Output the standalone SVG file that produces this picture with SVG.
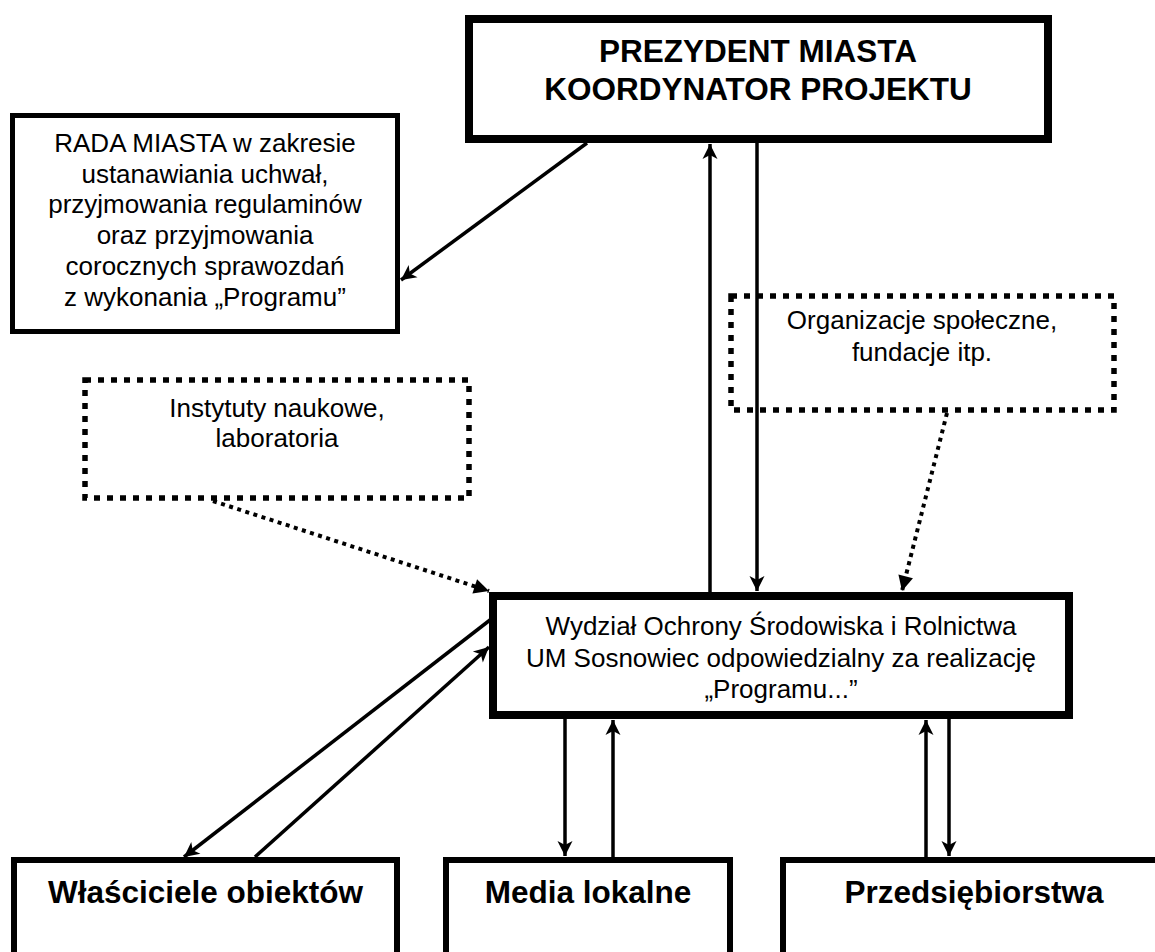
<svg xmlns="http://www.w3.org/2000/svg" width="1155" height="952" viewBox="0 0 1155 952">
<style>
.box{fill:#fff;stroke:#000}
.dot{fill:#fff;stroke:#000;stroke-width:5.5;stroke-dasharray:6 7}
.t{font-family:"Liberation Sans",Arial,sans-serif;font-size:26px;fill:#000;text-anchor:middle}
.b{font-family:"Liberation Sans",Arial,sans-serif;font-size:31.5px;font-weight:bold;fill:#000;text-anchor:middle}
.ln{fill:none;stroke:#000;stroke-width:3.5}
.dl{fill:none;stroke:#000;stroke-width:4;stroke-dasharray:4 4.5}
</style>
<defs>
<marker id="ah" markerUnits="userSpaceOnUse" markerWidth="20" markerHeight="20" refX="0" refY="0" viewBox="-16 -10 20 20" orient="auto">
<path d="M0,0 L-15,-7.5 L-11,0 L-15,7.5 Z" fill="#000"/>
</marker>
<marker id="ahd" markerUnits="userSpaceOnUse" markerWidth="20" markerHeight="20" refX="0" refY="0" viewBox="-16 -10 20 20" orient="auto">
<path d="M0,0 L-15,-7.5 L-15,7.5 Z" fill="#000"/>
</marker>
</defs>
<rect width="1155" height="952" fill="#fff"/>
<g id="connectors">
<line class="ln" x1="587" y1="143" x2="401" y2="280" marker-end="url(#ah)"/>
<line class="ln" x1="710" y1="592" x2="710" y2="144" marker-end="url(#ah)"/>
<line class="ln" x1="757" y1="143" x2="757" y2="591" marker-end="url(#ah)"/>
<line class="dl" x1="947" y1="413" x2="902" y2="591" marker-end="url(#ahd)"/>
<line class="dl" x1="213" y1="501" x2="489" y2="591" marker-end="url(#ahd)"/>
<line class="ln" x1="490" y1="620" x2="184" y2="857" marker-end="url(#ah)"/>
<line class="ln" x1="255" y1="857" x2="489" y2="647" marker-end="url(#ah)"/>
<line class="ln" x1="565" y1="719" x2="565" y2="856" marker-end="url(#ah)"/>
<line class="ln" x1="613" y1="857" x2="613" y2="720" marker-end="url(#ah)"/>
<line class="ln" x1="926" y1="857" x2="926" y2="720" marker-end="url(#ah)"/>
<line class="ln" x1="949" y1="719" x2="949" y2="856" marker-end="url(#ah)"/>
</g>
<g id="prezydent">
<rect class="box" x="469" y="19" width="579" height="120" stroke-width="8"/>
<text class="b" x="758" y="62" font-size="32">PREZYDENT MIASTA</text>
<text class="b" x="758" y="100" font-size="32">KOORDYNATOR PROJEKTU</text>
</g>
<g id="rada">
<rect class="box" x="12.5" y="115.5" width="385" height="216" stroke-width="5"/>
<text class="t" x="205" y="152">RADA MIASTA w zakresie</text>
<text class="t" x="205" y="183">ustanawiania uchwał,</text>
<text class="t" x="205" y="213">przyjmowania regulaminów</text>
<text class="t" x="205" y="244">oraz przyjmowania</text>
<text class="t" x="205" y="275">corocznych sprawozdań</text>
<text class="t" x="205" y="306">z wykonania „Programu”</text>
</g>
<g id="organizacje">
<rect class="dot" x="731" y="296" width="383" height="114" fill="none" style="fill:none"/>
<text class="t" x="922" y="329">Organizacje społeczne,</text>
<text class="t" x="922" y="361">fundacje itp.</text>
</g>
<g id="instytuty">
<rect class="dot" x="85" y="380" width="384" height="118"/>
<text class="t" x="277" y="417">Instytuty naukowe,</text>
<text class="t" x="277" y="447">laboratoria</text>
</g>
<g id="wydzial">
<rect class="box" x="493" y="596" width="576" height="119" stroke-width="8"/>
<text class="t" x="781" y="635">Wydział Ochrony Środowiska i Rolnictwa</text>
<text class="t" x="781" y="667">UM Sosnowiec odpowiedzialny za realizację</text>
<text class="t" x="781" y="698">„Programu...”</text>
</g>
<g id="wlasciciele">
<rect class="box" x="14" y="860" width="383" height="200" stroke-width="6"/>
<text class="b" x="205.5" y="903">Właściciele obiektów</text>
</g>
<g id="media">
<rect class="box" x="446" y="860" width="284" height="200" stroke-width="6"/>
<text class="b" x="588" y="903">Media lokalne</text>
</g>
<g id="przedsiebiorstwa">
<rect class="box" x="783" y="860" width="400" height="200" stroke-width="6"/>
<text class="b" x="974" y="903">Przedsiębiorstwa</text>
</g>
</svg>
